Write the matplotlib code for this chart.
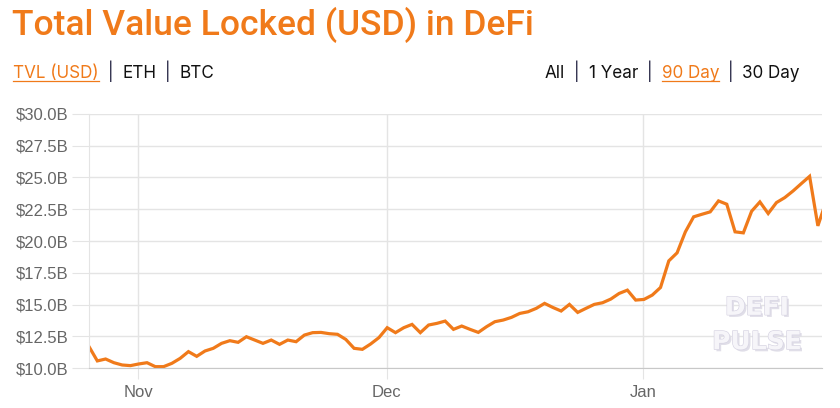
import matplotlib
matplotlib.use('Agg')
import matplotlib.pyplot as plt
import matplotlib.dates as mdates
import matplotlib.patheffects as pe
from matplotlib.lines import Line2D
from matplotlib.ticker import FuncFormatter, MultipleLocator
import pandas as pd

# daily TVL, billions USD
tvl = [11.70, 10.58, 10.73, 10.44, 10.26, 10.21, 10.34, 10.44, 10.13, 10.13,
       10.39, 10.78, 11.31, 10.94, 11.36, 11.57, 11.96, 12.17, 12.04, 12.48,
       12.22, 11.96, 12.22, 11.88, 12.22, 12.09, 12.61, 12.80, 12.82, 12.72,
       12.67, 12.27, 11.57, 11.49, 11.91, 12.41, 13.19, 12.80, 13.19, 13.45,
       12.80, 13.40, 13.53, 13.71, 13.06, 13.32, 13.06, 12.82, 13.27, 13.66,
       13.79, 14.00, 14.31, 14.44, 14.71, 15.10, 14.78, 14.50, 15.02, 14.39,
       14.71, 15.02, 15.15, 15.44, 15.88, 16.14, 15.36, 15.41, 15.75, 16.35,
       18.44, 19.07, 20.72, 21.90, 22.10, 22.29, 23.15, 22.89, 20.72, 20.64,
       22.34, 23.07, 22.16, 23.02, 23.41, 23.93, 24.51, 25.08, 21.19, 23.13]
dates = pd.date_range('2020-10-26 02:00', periods=len(tvl), freq='D')

title = 'Total Value Locked (USD) in DeFi'
left_tabs = ['TVL (USD)', 'ETH', 'BTC']
right_tabs = ['All', '1 Year', '90 Day', '30 Day']
active = ['TVL (USD)', '90 Day']

ORANGE = '#f07a1a'
GRID = '#e4e4e4'
LABEL = '#666666'

plt.rcParams['font.family'] = ['Liberation Sans', 'DejaVu Sans']

fig = plt.figure(figsize=(8.4, 4.08), dpi=100)
ax = fig.add_axes([0.106, 0.0973, 0.8726, 0.624])

ax.plot(dates, tvl, color=ORANGE, lw=2.3, solid_joinstyle='miter')

ax.set_ylim(10, 30)
ax.set_xlim(dates[0], dates[0] + pd.Timedelta(days=88.5))
ax.yaxis.set_major_locator(MultipleLocator(2.5))
ax.yaxis.set_major_formatter(FuncFormatter(lambda v, p: '$%.1fB' % v))
ax.xaxis.set_major_locator(mdates.MonthLocator())
ax.xaxis.set_major_formatter(mdates.DateFormatter('%b'))

ax.grid(True, color=GRID, lw=1)
ax.set_axisbelow(True)
for s in ['top', 'right']:
    ax.spines[s].set_visible(False)
ax.spines['left'].set_color(GRID)
ax.spines['bottom'].set_color('#c8c8c8')
ax.tick_params(axis='y', length=12, color=GRID, labelcolor=LABEL, labelsize=12, pad=3)
ax.tick_params(axis='x', length=8, color=GRID, labelcolor=LABEL, labelsize=12, pad=4)

# watermark (outlined letters with a soft 3d shadow)
wm = dict(transform=ax.transAxes, fontsize=18, fontweight='bold', color='#f6f5f9',
          family='DejaVu Sans', ha='center', zorder=1,
          path_effects=[pe.withSimplePatchShadow(offset=(1.5, -1.5), shadow_rgbFace='#e0dee8', alpha=1),
                        pe.Stroke(linewidth=0.9, foreground='#d6d3e2'), pe.Normal()])
ax.text(0.911, 0.21, 'DEFI', **wm)
ax.text(0.911, 0.075, 'PULSE', **wm)

fig.text(12 / 840, 1 - 25 / 408, title, fontsize=25.5, fontweight='medium', color=ORANGE,
         family=['Roboto', 'DejaVu Sans'], va='center')

renderer = fig.canvas.get_renderer()


def tab_row(labels, x0, y, align='left', gap=9):
    texts = []
    for i, lab in enumerate(labels):
        if i:
            t = fig.text(0, y, '|', fontsize=12.3, color='#1c1c3c', va='baseline',
                         family=['Inter', 'DejaVu Sans'])
            texts.append((t, False, True))
        on = lab in active
        t = fig.text(0, y, lab, fontsize=12.3, color=ORANGE if on else '#111111',
                     va='baseline', family=['Inter', 'DejaVu Sans'])
        texts.append((t, on, False))
    widths = [t.get_window_extent(renderer).width for t, u, b in texts]
    total = sum(widths) + gap * 2 * (len(labels) - 1)
    x = x0 * 840 if align == 'left' else x0 * 840 - total
    for (t, u, b), w in zip(texts, widths):
        if b:
            x += gap
        t.set_x(x / 840)
        if u:
            yy = y - 3 / 408
            fig.add_artist(Line2D([x / 840, (x + w) / 840], [yy, yy], color=ORANGE, lw=0.9))
        x += w
        if b:
            x += gap


tab_row(left_tabs, 13 / 840, 1 - 78 / 408)
tab_row(right_tabs, 800 / 840, 1 - 78 / 408, align='right')

fig.savefig('out.png', dpi=100)
